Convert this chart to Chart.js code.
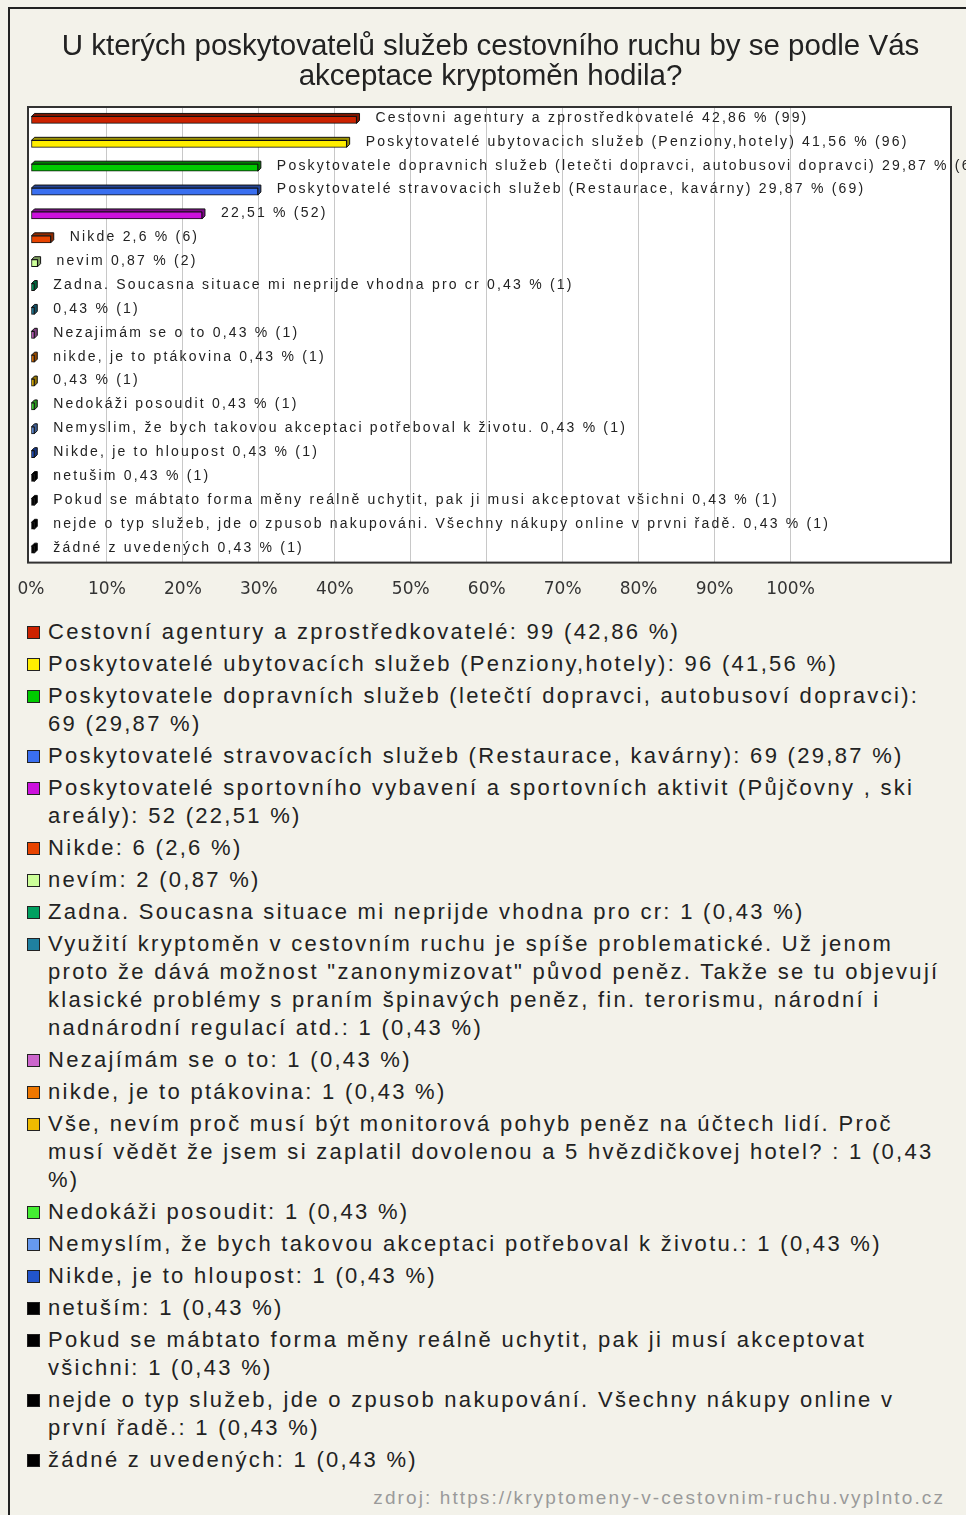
<!DOCTYPE html>
<html>
<head>
<meta charset="utf-8">
<script src="https://cdn.jsdelivr.net/npm/chart.js@4/dist/chart.umd.min.js"></script>
<style>
  html, body { margin: 0; padding: 0; }
  body { width: 966px; height: 1515px; background: #f3f2ea; position: relative; overflow: hidden; font-family: "Liberation Sans", Arial, sans-serif; }
  #frame { position: absolute; left: 8px; top: 7px; right: 0; bottom: 0; border-left: 2px solid #222; border-top: 2px solid #222; }
  #chartBox { position: absolute; left: 0; top: 0; width: 966px; height: 610px; }
  #legend { position: absolute; left: 0; top: 618px; width: 944px; }
  .item { position: relative; padding-left: 48px; font-size: 22px; line-height: 28px; letter-spacing: 2.3px; color: #222; margin-bottom: 4px; }
  .item .sw { position: absolute; left: 27px; top: 8px; width: 11px; height: 11px; border: 1px solid #222; }
  #source { position: absolute; right: 21px; top: 1487px; font-size: 19px; color: #9a9a9a; letter-spacing: 2.1px; }
</style>
</head>
<body>
<div id="frame"></div>
<div id="chartBox"><canvas id="barChart" width="966" height="610"></canvas></div>
<div id="legend"></div>
<div id="source">zdroj: https://kryptomeny-v-cestovnim-ruchu.vyplnto.cz</div>
<script>
// Survey answers

const titleLines = [
  'U kterých poskytovatelů služeb cestovního ruchu by se podle Vás',
  'akceptace kryptoměn hodila?',
];

// names as printed next to the bars
const barNames = [
  'Cestovni agentury a zprostředkovatelé',
  'Poskytovatelé ubytovacich služeb (Penziony,hotely)',
  'Poskytovatele dopravnich služeb (letečti dopravci, autobusovi dopravci)',
  'Poskytovatelé stravovacich služeb (Restaurace, kavárny)',
  '',
  'Nikde',
  'nevim',
  'Zadna. Soucasna situace mi neprijde vhodna pro cr',
  '',
  'Nezajimám se o to',
  'nikde, je to ptákovina',
  '',
  'Nedokáži posoudit',
  'Nemyslim, že bych takovou akceptaci potřeboval k životu.',
  'Nikde, je to hloupost',
  'netušim',
  'Pokud se mábtato forma měny reálně uchytit, pak ji musi akceptovat všichni',
  'nejde o typ služeb, jde o zpusob nakupováni. Všechny nákupy online v prvni řadě.',
  'žádné z uvedených',
];

// names as printed in the legend
const legendNames = [
  'Cestovní agentury a zprostředkovatelé',
  'Poskytovatelé ubytovacích služeb (Penziony,hotely)',
  'Poskytovatele dopravních služeb (letečtí dopravci, autobusoví dopravci)',
  'Poskytovatelé stravovacích služeb (Restaurace, kavárny)',
  'Poskytovatelé sportovního vybavení a sportovních aktivit (Půjčovny , ski areály)',
  'Nikde',
  'nevím',
  'Zadna. Soucasna situace mi neprijde vhodna pro cr',
  'Využití kryptoměn v cestovním ruchu je spíše problematické. Už jenom proto že dává možnost "zanonymizovat" původ peněz. Takže se tu objevují klasické problémy s praním špinavých peněz, fin. terorismu, národní i nadnárodní regulací atd.',
  'Nezajímám se o to',
  'nikde, je to ptákovina',
  'Vše, nevím proč musí být monitorová pohyb peněz na účtech lidí. Proč musí vědět že jsem si zaplatil dovolenou a 5 hvězdičkovej hotel? ',
  'Nedokáži posoudit',
  'Nemyslím, že bych takovou akceptaci potřeboval k životu.',
  'Nikde, je to hloupost',
  'netuším',
  'Pokud se mábtato forma měny reálně uchytit, pak ji musí akceptovat všichni',
  'nejde o typ služeb, jde o zpusob nakupování. Všechny nákupy online v první řadě.',
  'žádné z uvedených',
];

const counts = [99, 96, 69, 69, 52, 6, 2, 1, 1, 1, 1, 1, 1, 1, 1, 1, 1, 1, 1];
const percents = [42.86, 41.56, 29.87, 29.87, 22.51, 2.6, 0.87, 0.43, 0.43, 0.43, 0.43, 0.43, 0.43, 0.43, 0.43, 0.43, 0.43, 0.43, 0.43];

const colors = [
  '#cc2200', '#ffee00', '#00cc00', '#3a6ff0', '#cc11dd', '#e84400', '#ccff99',
  '#00a060', '#1f80a0', '#cc66cc', '#ee7700', '#eebb00', '#44ee33', '#6699ee',
  '#2255cc', '#000000', '#000000', '#000000', '#000000',
];

const fmt = (p) => String(p).replace('.', ',');

const darken = (hex, f) => {
  const n = parseInt(hex.slice(1), 16);
  const r = Math.round(((n >> 16) & 255) * f);
  const g = Math.round(((n >> 8) & 255) * f);
  const b = Math.round((n & 255) * f);
  return `rgb(${r},${g},${b})`;
};

const DEPTH = 3;

// white plot background + frame
const plotFrame = {
  id: 'plotFrame',
  beforeDraw(chart) {
    const { ctx, chartArea: a } = chart;
    ctx.save();
    ctx.fillStyle = '#ffffff';
    ctx.fillRect(a.left - 3, a.top - 1, a.right - a.left + 4, a.bottom - a.top + 2);
    ctx.restore();
  },
  afterDraw(chart) {
    const { ctx, chartArea: a } = chart;
    ctx.save();
    ctx.strokeStyle = '#333';
    ctx.lineWidth = 2;
    ctx.strokeRect(a.left - 3, a.top - 1, a.right - a.left + 4, a.bottom - a.top + 2);
    ctx.restore();
  },
};

// top and right faces of the bars, drawn behind the front face
const bar3d = {
  id: 'bar3d',
  beforeDatasetsDraw(chart) {
    const { ctx } = chart;
    const meta = chart.getDatasetMeta(0);
    ctx.save();
    ctx.lineWidth = 1;
    ctx.strokeStyle = '#111';
    meta.data.forEach((bar, i) => {
      const { x, y, base, height } = bar.getProps(['x', 'y', 'base', 'height'], true);
      const top = y - height / 2;
      const bottom = y + height / 2;
      ctx.fillStyle = darken(colors[i], 0.62);
      ctx.beginPath();
      ctx.moveTo(base, top);
      ctx.lineTo(base + DEPTH, top - DEPTH);
      ctx.lineTo(x + DEPTH, top - DEPTH);
      ctx.lineTo(x + DEPTH, bottom - DEPTH);
      ctx.lineTo(x, bottom);
      ctx.lineTo(x, top);
      ctx.closePath();
      ctx.fill();
      ctx.stroke();
    });
    ctx.restore();
  },
  afterDatasetsDraw(chart) {
    const { ctx } = chart;
    const meta = chart.getDatasetMeta(0);
    ctx.save();
    ctx.font = '14px "Liberation Sans", Arial, sans-serif';
    ctx.letterSpacing = '2.2px';
    ctx.fillStyle = '#222';
    ctx.textBaseline = 'middle';
    meta.data.forEach((bar, i) => {
      const name = barNames[i];
      const txt = (name ? name + ' ' : '') + fmt(percents[i]) + ' % (' + counts[i] + ')';
      ctx.fillText(txt, bar.x + DEPTH + 16, bar.y - 2);
    });
    ctx.restore();
  },
};

const buildLegend = () => {
  const box = document.getElementById('legend');
  box.innerHTML = legendNames
    .map(
      (name, i) => `
      <div class="item"><span class="sw" style="background:${colors[i]}"></span>${name}: ${counts[i]} (${fmt(percents[i])} %)</div>`
    )
    .join('');
};

const drawChart = () => {
  const ctx = document.getElementById('barChart');
  new Chart(ctx, {
    type: 'bar',
    data: {
      labels: barNames.map((n, i) => String(i)),
      datasets: [
        {
          data: percents,
          backgroundColor: colors,
          borderColor: '#111',
          borderWidth: 1,
          borderSkipped: false,
          barThickness: 7,
        },
      ],
    },
    options: {
      indexAxis: 'y',
      responsive: false,
      animation: false,
      layout: { padding: { left: 31, right: 16, bottom: 7 } },
      plugins: {
        legend: { display: false },
        tooltip: { enabled: false },
        title: {
          display: true,
          text: titleLines,
          color: '#222',
          font: { family: '"Liberation Sans", Arial, sans-serif', size: 29.5, weight: 'normal', lineHeight: 1.017 },
          padding: { top: 32, bottom: 16 },
        },
      },
      scales: {
        x: {
          min: 0,
          max: 121,
          border: { display: false },
          grid: {
            drawTicks: true,
            tickLength: 15,
            tickColor: 'rgba(0,0,0,0)',
            color: (c) => (c.tick && c.tick.value > 0 && c.tick.value <= 100 ? '#c8c8c8' : 'rgba(0,0,0,0)'),
            lineWidth: 1,
          },
          ticks: {
            stepSize: 10,
            autoSkip: false,
            maxRotation: 0,
            padding: 3,
            color: '#333',
            font: { family: '"DejaVu Sans", sans-serif', size: 17 },
            callback: (v) => (v <= 100 && v % 10 === 0 ? v + '%' : ''),
          },
        },
        y: {
          display: false,
          grid: { display: false },
        },
      },
    },
    plugins: [plotFrame, bar3d],
  });
};

document.addEventListener('DOMContentLoaded', () => {
  buildLegend();
  drawChart();
});
</script>
</body>
</html>
